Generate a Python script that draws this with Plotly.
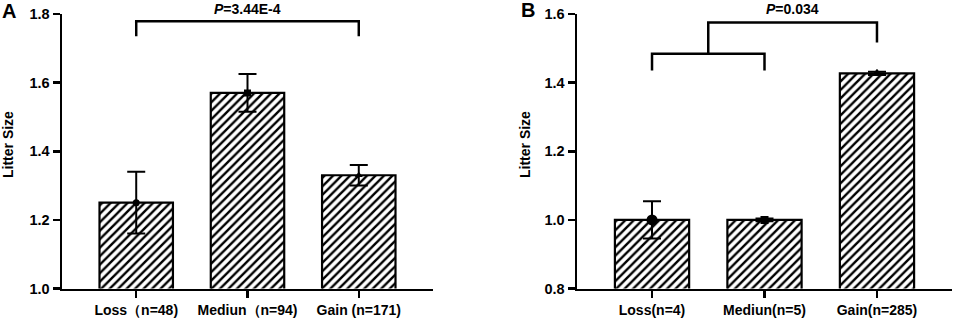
import plotly.graph_objects as go

# ---- data ----
categories_a = ["Loss（n=48)", "Mediun（n=94)", "Gain (n=171)"]
means_a = [1.25, 1.57, 1.33]
errors_a = [0.09, 0.055, 0.03]

categories_b = ["Loss(n=4)", "Mediun(n=5)", "Gain(n=285)"]
means_b = [1.0, 1.0, 1.427]
errors_b = [0.054, 0.004, 0.005]

yticks_a = [1.0, 1.2, 1.4, 1.6, 1.8]
yticks_b = [0.8, 1.0, 1.2, 1.4, 1.6]

p_text_a = "<i>P</i>=3.44E-4"
p_text_b = "<i>P</i>=0.034"

# ---- styling ----
W, H = 957, 319
FONT = "Liberation Sans, Arial, sans-serif"
LW = 2.5
marker_symbols = ["circle", "square", "triangle-up"]
marker_sizes_a = [7, 7, 7]
marker_sizes_b = [11, 8, 9]

pos = list(range(len(categories_a)))

fig = go.Figure()


def add_panel(xa, ya, cats, means, errs, sizes):
    fig.add_trace(go.Bar(
        x=pos, y=means, width=0.66, xaxis=xa, yaxis=ya,
        marker=dict(color="white",
                    line=dict(color="black", width=2.2),
                    pattern=dict(shape="/", fgcolor="black", bgcolor="white",
                                 fgopacity=1, size=6, solidity=0.4)),
        showlegend=False, hoverinfo="skip"))
    fig.add_trace(go.Scatter(
        x=pos, y=means, mode="markers", xaxis=xa, yaxis=ya,
        marker=dict(color="black", symbol=marker_symbols, size=sizes,
                    opacity=1, line=dict(color="black", width=0)),
        error_y=dict(type="data", array=errs, visible=True, color="black",
                     thickness=2, width=9),
        showlegend=False, hoverinfo="skip"))


add_panel("x", "y", categories_a, means_a, errors_a, marker_sizes_a)
add_panel("x2", "y2", categories_b, means_b, errors_b, marker_sizes_b)

ydom = [(H - 288.5) / H, (H - 14) / H]

xcommon = dict(showline=True, linecolor="black", linewidth=LW, ticks="outside",
               ticklen=7, tickwidth=LW, tickcolor="black", showgrid=False,
               zeroline=False, tickmode="array", tickvals=pos,
               range=[-0.667, 2.667],
               tickfont=dict(family=FONT, size=14, color="black", weight="bold"))
ycommon = dict(showline=True, linecolor="black", linewidth=LW, ticks="outside",
               ticklen=7, tickwidth=LW, tickcolor="black", showgrid=False,
               zeroline=False, tickmode="array", domain=ydom,
               tickfont=dict(family=FONT, size=14.5, color="black", weight="bold"))

fig.update_layout(
    template="none",
    width=W, height=H,
    margin=dict(l=0, r=0, t=0, b=0, pad=0),
    paper_bgcolor="white", plot_bgcolor="white",
    bargap=0,
    xaxis=dict(xcommon, domain=[62 / W, 433 / W], ticktext=categories_a, anchor="y"),
    yaxis=dict(ycommon, range=[1.0, 1.8], tickvals=yticks_a,
               ticktext=[f"{v:.1f}" for v in yticks_a], anchor="x"),
    xaxis2=dict(xcommon, domain=[577 / W, 952 / W], ticktext=categories_b, anchor="y2"),
    yaxis2=dict(ycommon, range=[0.8, 1.6], tickvals=yticks_b,
                ticktext=[f"{v:.1f}" for v in yticks_b], anchor="x2"),
)

line = dict(color="black", width=LW)
# bracket A: Loss to Gain
fig.add_shape(type="path", xref="x", yref="y", line=line,
              path=f"M {pos[0]},1.735 L {pos[0]},1.779 L {pos[2]},1.779 L {pos[2]},1.735")
# bracket B: (Loss, Mediun) vs Gain
mid_b = (pos[0] + pos[1]) / 2
fig.add_shape(type="path", xref="x2", yref="y2", line=line,
              path=f"M {pos[0]},1.435 L {pos[0]},1.484 L {pos[1]},1.484 L {pos[1]},1.435")
fig.add_shape(type="path", xref="x2", yref="y2", line=line,
              path=f"M {mid_b},1.484 L {mid_b},1.575 L {pos[2]},1.575 L {pos[2]},1.517")

txtfont = dict(family=FONT, size=14, color="black", weight="bold")
fig.add_annotation(x=(pos[0] + pos[2]) / 2, xref="x", y=1 - 9 / H, yref="paper",
                   text=p_text_a, showarrow=False, font=txtfont,
                   xanchor="center", yanchor="middle")
fig.add_annotation(x=(mid_b + pos[2]) / 2, xref="x2", y=1 - 9 / H, yref="paper",
                   text=p_text_b, showarrow=False, font=txtfont,
                   xanchor="center", yanchor="middle")

# y titles
for xp in (8 / W, 525 / W):
    fig.add_annotation(x=xp, xref="paper", y=1 - 145 / H, yref="paper",
                       text="Litter Size", textangle=-90, showarrow=False,
                       font=dict(family=FONT, size=14, color="black", weight="bold"),
                       xanchor="center", yanchor="middle")

# panel letters
for letter, xp, yp in (("A", 9, 11), ("B", 528, 10)):
    fig.add_annotation(x=xp / W, xref="paper", y=1 - yp / H, yref="paper",
                       text=letter, showarrow=False,
                       font=dict(family=FONT, size=20, color="black", weight="bold"),
                       xanchor="center", yanchor="middle")

fig.write_html("out.html",
               config={"displayModeBar": False, "staticPlot": True},
               post_script="document.body.style.margin='0';document.body.style.overflow='hidden';")
